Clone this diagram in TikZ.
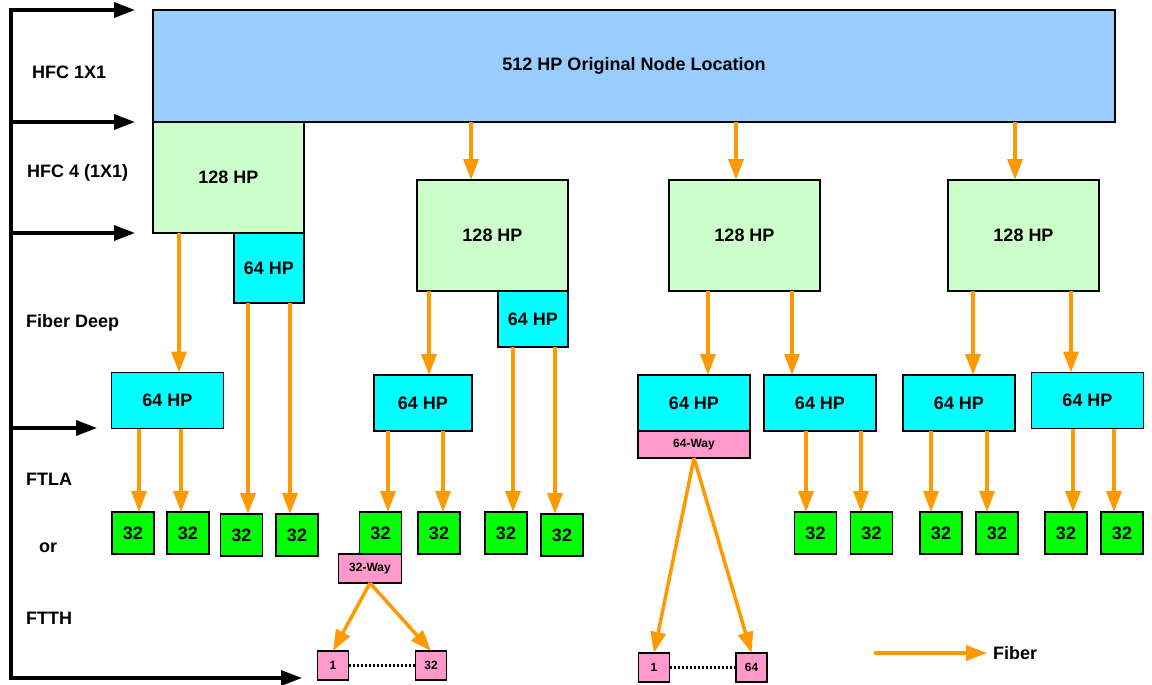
\documentclass[tikz,border=0pt]{standalone}
\usepackage{fontspec}
\setmainfont{Liberation Sans}
\usepackage{tikz}
\usetikzlibrary{positioning, arrows.meta}
\definecolor{nodeblue}{HTML}{99CCFF}
\definecolor{hpgreen}{HTML}{CCFFCC}
\definecolor{hpcyan}{HTML}{00FFFF}
\definecolor{cntgreen}{HTML}{00FF00}
\definecolor{splitpink}{HTML}{FF99CC}
\definecolor{fiberorange}{HTML}{FF9900}

\begin{document}
\begin{tikzpicture}[
    x=1pt, y=-1pt,
    box/.style={draw=black, line width=1.6pt, inner sep=0pt, outer sep=0pt,
                font=\bfseries\fontsize{18}{21}\selectfont, align=center},
    orig/.style={box, fill=nodeblue, minimum width=962pt, minimum height=112pt},
    hp128/.style={box, fill=hpgreen, minimum width=151pt, minimum height=111pt},
    hp64/.style={box, fill=hpcyan, minimum width=112pt, minimum height=56pt},
    cnt/.style={box, fill=cntgreen, minimum width=42pt, minimum height=42pt},
    split/.style={box, fill=splitpink, font=\bfseries\fontsize{12}{14}\selectfont},
    home/.style={split, minimum width=31pt, minimum height=29pt},
    tier/.style={font=\bfseries\fontsize{18}{21}\selectfont, inner sep=0pt, anchor=west},
    fiber/.style={->, >={Triangle[length=21pt, width=15pt]}, line width=3.5pt, fiberorange},
    rail/.style={->, >={Triangle[length=21pt, width=15pt]}, line width=3.3pt, black},
    dots/.style={line width=2.5pt, dash pattern=on 2.5pt off 1.5pt},
]
\useasboundingbox (0,0) rectangle (1152,685);

% Original node
\node[orig] (orig) at (634,66) {512 HP Original Node Location};

% 128 HP nodes
\node[hp128, below=0pt of orig.south west, anchor=north west] (c1) {128 HP};
\node[hp128] (c2) at (492.5,235.5) {128 HP};
\node[hp128] (c3) at (744.5,235.5) {128 HP};
\node[hp128] (c4) at (1023.5,235.5) {128 HP};

% 64 HP nodes sitting on the 128 HP nodes
\node[hp64, minimum width=70pt, minimum height=70pt,
      below=0pt of c1.south east, anchor=north east] (a1) {64 HP};
\node[hp64, minimum width=70pt,
      below=0pt of c2.south east, anchor=north east] (a2) {64 HP};

% Fiber deep 64 HP nodes
\node[hp64] (f1) at (167.5,400.5) {64 HP};
\node[hp64, minimum width=98pt] (f2) at (423,403) {64 HP};
\node[hp64] (f3) at (694,403) {64 HP};
\node[hp64] (f4) at (820,403) {64 HP};
\node[hp64] (f5) at (959,403) {64 HP};
\node[hp64] (f6) at (1087.5,400.5) {64 HP};

% FTLA nodes
\foreach \n/\x/\y in {1/133/533, 2/188/533, 3/241.5/535, 4/297/535,
                      5/380.5/533, 6/439/533, 7/506/533, 8/562/535,
                      9/815.5/533, 10/871.5/533, 11/941/533, 12/997/533,
                      13/1066/533, 14/1122/533}
    \node[cnt] (g\n) at (\x,\y) {32};

% FTTH splitters and homes
\node[split, minimum width=63pt, minimum height=29pt,
      below=0pt of g5.south east, anchor=north east] (w32) {32-Way};
\node[split, minimum width=112pt, minimum height=27pt,
      below=0pt of f3.south] (w64) {64-Way};
\node[home] (p1) at (333,665.5) {1};
\node[home] (p32) at (431,665.5) {32};
\node[home] (q1) at (654,667.5) {1};
\node[home] (q64) at (751.5,667.5) {64};

% Tier labels
\node[tier] (l1) at (32,72) {HFC 1X1};
\node[tier] (l2) at (27,173) {HFC 4 (1X1)};
\node[tier] (l3) at (26,323) {Fiber Deep};
\node[tier] (l4) at (26,479) {FTLA};
\node[tier] (l5) at (39,548) {or};
\node[tier] (l6) at (26,618) {FTTH};

% Tier rail
\coordinate (railtop) at (11,10);
\coordinate (railbot) at (11,678);
\coordinate (t1) at (135,10);
\coordinate (t2) at (135,122);
\coordinate (t3) at (135,233);
\coordinate (t4) at (97,428);
\coordinate (t5) at (302,678);
\draw[rail, <->] (t1) -- (railtop) -- (railbot) -- (t5);
\foreach \t in {t2, t3, t4}
    \draw[rail] (railtop |- \t) -- (\t);

% Fiber runs
\foreach \s/\t/\d in {orig/c2/-21.5, orig/c3/-8.5, orig/c4/-8.5,
                      c1/f1/11.5, c2/f2/6, c3/f3/14, c3/f4/-28,
                      c4/f5/14, c4/f6/-16.5,
                      a1/g3/6.5, a1/g4/-7, a2/g7/7, a2/g8/-7,
                      f1/g1/6, f1/g2/-7, f2/g5/7.5, f2/g6/4,
                      f4/g9/-9.5, f4/g10/-10.5, f5/g11/-10, f5/g12/-10,
                      f6/g13/7, f6/g14/-8} {
    \path ([xshift=\d pt]\t.north) coordinate (tip);
    \draw[fiber] (tip |- \s.south) -- (tip);
}

% Splitter drops
\draw[fiber] (w32.south) -- (p1.north);
\draw[fiber] (w32.south) -- (p32.north);
\draw[fiber] (w64.south) -- (q1.north);
\draw[fiber] (w64.south) -- (q64.north);
\draw[dots] (p1) -- (p32);
\draw[dots] (q1) -- (q64);

% Legend
\node[tier] (fiberkey) at (993,653) {Fiber};
\coordinate (keystart) at (874,653);
\draw[fiber] (keystart) -- ([xshift=-6pt]fiberkey.west);

\end{tikzpicture}
\end{document}
